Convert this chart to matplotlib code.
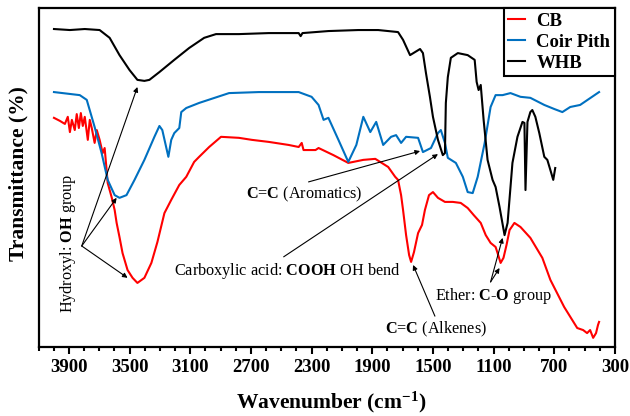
import matplotlib
matplotlib.use("Agg")
import matplotlib.pyplot as plt

plt.rcParams['font.family'] = ['Liberation Serif', 'DejaVu Serif']
plt.rcParams['mathtext.fontset'] = 'custom'
plt.rcParams['mathtext.rm'] = 'Liberation Serif'
plt.rcParams['mathtext.bf'] = 'Liberation Serif:bold'
plt.rcParams['mathtext.it'] = 'Liberation Serif:italic'

# ---------------- data (wavenumber cm-1, transmittance a.u.) ----------------
whb_wn = [3998, 3893, 3795, 3697, 3631, 3566, 3500, 3448, 3402, 3369, 3303, 3205,
          3107, 3008, 2930, 2779, 2582, 2385, 2372, 2360, 2189, 1992, 1861, 1730,
          1697, 1651, 1618, 1585, 1566, 1546, 1520, 1500, 1467, 1435, 1421, 1415,
          1402, 1382, 1336, 1271, 1225, 1212, 1199, 1185, 1166, 1140, 1107, 1087,
          1061, 1028, 1008, 976, 943, 910, 897, 890, 877, 858, 845, 825, 799, 766,
          746, 726, 707, 694]
whb_t = [93.8, 93.5, 93.8, 93.5, 91.2, 86.1, 81.7, 78.8, 78.5, 78.8, 81.1, 84.7,
         88.2, 91.2, 92.3, 92.3, 92.6, 92.6, 91.7, 92.6, 93.2, 93.5, 93.5, 92.9,
         90.6, 86.1, 87.0, 87.9, 86.7, 80.8, 73.8, 67.9, 61.1, 56.6, 57.2, 72.0,
         79.6, 85.3, 86.7, 86.1, 84.7, 78.2, 75.8, 77.3, 67.0, 55.2, 49.3, 47.2,
         41.3, 33.0, 36.6, 54.3, 62.0, 66.4, 66.1, 46.3, 66.4, 69.3, 69.9, 67.9,
         63.1, 56.1, 55.2, 52.2, 49.3, 52.8]

coir_wn = [3998, 3828, 3782, 3730, 3684, 3644, 3598, 3566, 3520, 3467, 3402, 3336,
           3303, 3284, 3244, 3225, 3205, 3172, 3159, 3126, 3041, 2844, 2648, 2451,
           2385, 2300, 2254, 2221, 2189, 2123, 2058, 2005, 1959, 1913, 1874, 1828,
           1776, 1743, 1710, 1677, 1598, 1566, 1513, 1467, 1448, 1421, 1402, 1349,
           1303, 1271, 1238, 1205, 1159, 1120, 1087, 1041, 989, 923, 858, 766, 700,
           647, 595, 530, 405]
coir_t = [75.2, 74.3, 72.9, 64.9, 57.2, 49.3, 44.8, 44.0, 44.8, 49.3, 55.2, 62.0,
          65.2, 64.0, 56.1, 61.1, 63.1, 64.6, 69.3, 70.5, 72.0, 74.9, 75.2, 75.2,
          75.2, 73.8, 71.4, 67.0, 67.6, 61.1, 54.6, 59.6, 67.9, 63.4, 66.4, 59.6,
          62.0, 62.5, 60.2, 62.0, 61.7, 57.5, 58.7, 63.1, 64.0, 60.2, 55.8, 54.3,
          50.2, 45.7, 45.4, 50.2, 60.2, 70.8, 74.3, 74.3, 74.9, 73.8, 73.5, 71.4,
          70.2, 69.3, 70.8, 71.4, 75.2]

cb_wn = [3998, 3959, 3926, 3907, 3893, 3880, 3861, 3848, 3834, 3821, 3808, 3795,
         3775, 3762, 3749, 3730, 3716, 3697, 3677, 3664, 3651, 3644, 3618, 3598,
         3585, 3566, 3546, 3513, 3480, 3448, 3402, 3356, 3316, 3270, 3225, 3172,
         3126, 3074, 3041, 2975, 2897, 2779, 2693, 2582, 2451, 2385, 2365, 2353,
         2274, 2254, 2156, 2058, 1959, 1880, 1795, 1749, 1730, 1710, 1697, 1677,
         1657, 1644, 1625, 1598, 1572, 1553, 1526, 1500, 1467, 1421, 1369, 1317,
         1271, 1231, 1185, 1152, 1120, 1087, 1074, 1054, 1035, 1015, 995, 963, 923,
         858, 779, 726, 635, 549, 510, 484, 464, 444, 425, 412, 405]
cb_t = [67.6, 66.7, 65.8, 67.9, 63.4, 67.0, 64.0, 68.7, 64.6, 69.0, 65.2, 67.9,
        61.1, 67.0, 64.6, 60.2, 64.0, 61.1, 57.2, 58.7, 52.2, 48.4, 44.2, 40.4,
        36.6, 32.4, 27.7, 22.7, 20.4, 18.9, 20.4, 24.8, 31.0, 39.5, 43.4, 47.8,
        50.2, 54.6, 56.1, 59.0, 62.0, 61.7, 61.1, 60.5, 59.6, 59.0, 60.2, 58.1,
        58.1, 58.7, 56.6, 54.3, 55.2, 55.5, 53.1, 50.2, 49.3, 44.8, 40.4, 33.0,
        27.1, 25.1, 28.0, 33.6, 36.0, 40.4, 44.8, 45.7, 44.0, 42.8, 42.8, 42.5,
        41.0, 38.9, 36.6, 33.0, 30.7, 29.5, 27.7, 24.8, 26.3, 30.1, 34.5, 36.6,
        35.4, 32.2, 26.3, 19.8, 11.8, 5.6, 5.0, 4.1, 5.0, 2.7, 4.1, 6.5, 7.4]

series_names = ['CB', 'Coir Pith', 'WHB']
series_colors = ['#FF0000', '#0070C0', '#000000']
major_ticks = [3900, 3500, 3100, 2700, 2300, 1900, 1500, 1100, 700, 300]

# ---------------- figure ----------------
fig = plt.figure(figsize=(6.3, 4.16), dpi=100)
ax = fig.add_axes([38.5 / 630, 1 - 347 / 416, (615 - 38.5) / 630, (347 - 8) / 416])

for wn, t, name, col in zip([cb_wn, coir_wn, whb_wn], [cb_t, coir_t, whb_t],
                            series_names, series_colors):
    ax.plot(wn, t, color=col, lw=1.5, label=name, solid_joinstyle='round')

ax.set_xlim(4100, 300)
ax.set_ylim(0, 100)
ax.set_xticks(major_ticks)
ax.set_xticks(list(range(4100, 299, -100)), minor=True)
ax.set_xticklabels([str(v) for v in major_ticks], fontweight='bold', fontsize=13.5)
ax.set_yticks([])
ax.tick_params(axis='x', which='major', length=5, width=1.5, direction='out', pad=4)
ax.tick_params(axis='x', which='minor', length=3, width=1.5, direction='out')
for s in ax.spines.values():
    s.set_linewidth(1.6)

fig.text(331 / 630, 1 - 402 / 416, r"Wavenumber (cm$^{\mathbf{-1}}$)",
         ha='center', va='center', fontsize=15.5, fontweight='bold')
fig.text(18 / 630, 1 - 174 / 416, "Transmittance (%)", rotation=90,
         ha='center', va='center', fontsize=15.5, fontweight='bold')

leg = ax.legend(loc='upper right', bbox_to_anchor=(1.0, 1.0), borderaxespad=0,
                frameon=True, fancybox=False, handlelength=0.9, handletextpad=0.6,
                labelspacing=0.2, borderpad=0.25,
                prop={'family': 'Liberation Serif', 'weight': 'bold', 'size': 13.5})
leg.get_frame().set_edgecolor('black')
leg.get_frame().set_linewidth(1.5)
leg.get_frame().set_alpha(1)

# ---------------- annotations ----------------
afs = 11.7
arrow = dict(arrowstyle='-|>', color='black', lw=0.8, mutation_scale=7,
             shrinkA=0, shrinkB=0)

ax.text(3907, 10.0, r"Hydroxyl: $\mathbf{OH}$ group", rotation=90, ha='center',
        va='bottom', fontsize=afs)
for tip in [(3448, 76.7), (3585, 44.0), (3513, 20.4)]:
    ax.annotate("", xy=tip, xytext=(3815, 29.8), arrowprops=arrow)

ax.text(2733, 43.7, r"$\mathbf{C}$=$\mathbf{C}$ (Aromatics)", ha='left',
        va='baseline', fontsize=afs)
ax.annotate("", xy=(1585, 57.8), xytext=(2320, 48.7), arrowprops=arrow)

ax.text(3205, 21.2, r"Carboxylic acid: $\mathbf{COOH}$ OH bend", ha='left',
        va='baseline', fontsize=afs)
ax.annotate("", xy=(1467, 56.9), xytext=(2484, 26.6), arrowprops=arrow)

ax.text(1815, 4.1, r"$\mathbf{C}$=$\mathbf{C}$ (Alkenes)", ha='left',
        va='baseline', fontsize=afs)
ax.annotate("", xy=(1631, 24.2), xytext=(1487, 9.1), arrowprops=arrow)

ax.text(1487, 13.9, r"Ether: $\mathbf{C}$-$\mathbf{O}$ group", ha='left',
        va='baseline', fontsize=afs)
ax.annotate("", xy=(1041, 32.2), xytext=(1120, 19.2), arrowprops=arrow)
ax.annotate("", xy=(1061, 23.3), xytext=(1120, 19.2), arrowprops=arrow)

fig.savefig("out.png", dpi=100)
